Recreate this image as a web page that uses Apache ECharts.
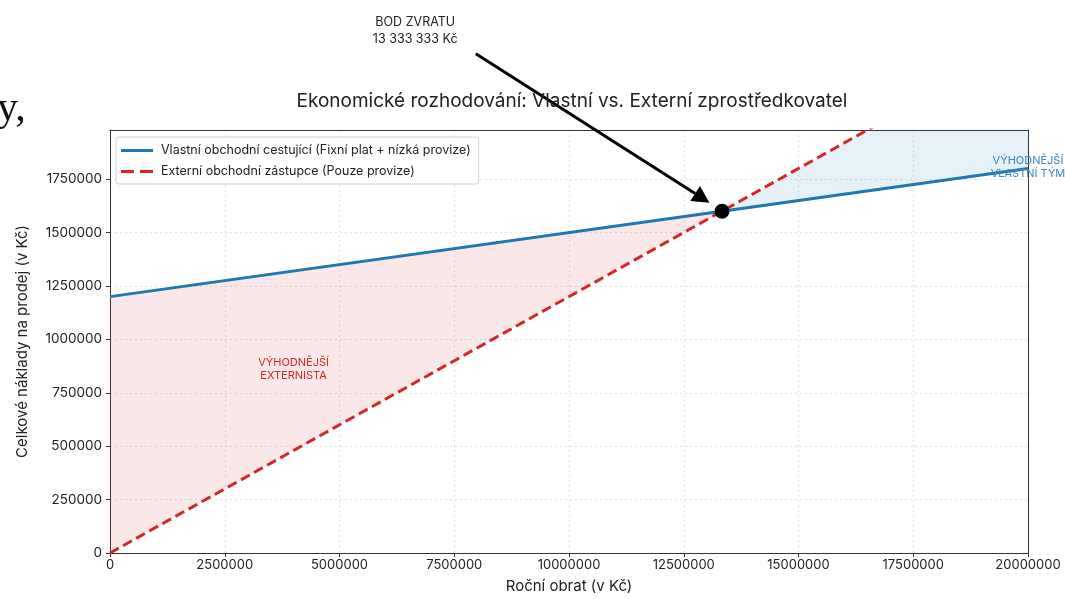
<!DOCTYPE html>
<html>
<head>
<meta charset="utf-8">
<script src="https://cdn.jsdelivr.net/npm/echarts@6/dist/echarts.min.js"></script>
<style>
html,body{margin:0;padding:0;background:#fff;}
#chart{width:1065px;height:599px;}
</style>
</head>
<body>
<div id="chart"></div>
<script>
// ---- data ----
const revenue = [0, 13333333, 20000000];                 // roční obrat (Kč)
const internalCost = [1200000, 1600000, 1800000];        // vlastní obchodní cestující
const externalCost = [0, 1600000, 2400000];              // externí zástupce
const breakEven = [13333333, 1600000];
const xTicks = [0, 2500000, 5000000, 7500000, 10000000, 12500000, 15000000, 17500000, 20000000];
const yTicks = [0, 250000, 500000, 750000, 1000000, 1250000, 1500000, 1750000];
const seriesNames = ['Vlastní obchodní cestující (Fixní plat + nízká provize)', 'Externí obchodní zástupce (Pouze provize)'];

const FONT = 'Inter';
const BLUE = '#1f77b4', RED = '#d62728';

const internalData = revenue.map((x, i) => [x, internalCost[i]]);
const externalData = revenue.map((x, i) => [x, externalCost[i]]);

// annotation placement (data coords)
const annotText = [6650000, 2445000];
const arrowFrom = [7970000, 2337000];
const arrowTo = [13060000, 1640000];
const labelExt = [4000000, 860000];
const labelInt = [20000000, 1805000];

const chart = echarts.init(document.getElementById('chart'));
const frameAxis = {
  type: 'value', min: 0, show: true,
  axisLine: {show: true, onZero: false, lineStyle: {color: '#333', width: 1}},
  axisTick: {show: false}, axisLabel: {show: false}, splitLine: {show: false}
};
chart.setOption({
  animation: false,
  backgroundColor: '#fff',
  textStyle: {fontFamily: FONT},
  title: {
    text: 'Ekonomické rozhodování: Vlastní vs. Externí zprostředkovatel',
    left: 567, textAlign: 'center', top: 87,
    textStyle: {fontFamily: FONT, fontSize: 19, fontWeight: 'normal', color: '#222'}
  },
  grid: {left: 110, right: 37, top: 130, bottom: 42},
  legend: {
    left: 116, top: 137, orient: 'vertical',
    padding: [7, 8, 6, 5], itemGap: 8,
    backgroundColor: '#fff', borderColor: '#d0d0d0', borderWidth: 1, borderRadius: 3,
    itemWidth: 32, itemHeight: 3,
    textStyle: {fontFamily: FONT, fontSize: 12.5, color: '#222', padding: [0, 0, 0, 3]},
    data: [
      {name: seriesNames[0], icon: 'path://M0,0h32v3h-32z'},
      {name: seriesNames[1], icon: 'path://M0,0h13v3h-13z M19,0h13v3h-13z'}
    ]
  },
  xAxis: [{
    type: 'value', min: 0, max: 20000000, interval: 2500000,
    name: 'Roční obrat (v Kč)', nameLocation: 'middle', nameGap: 26,
    nameTextStyle: {fontFamily: FONT, fontSize: 15, color: '#222'},
    axisLine: {show: true, onZero: false, lineStyle: {color: '#333'}},
    axisTick: {show: true, length: 4, lineStyle: {color: '#333'}},
    axisLabel: {fontFamily: FONT, fontSize: 13, color: '#222', margin: 6,
      formatter: v => xTicks.includes(v) ? String(v) : ''},
    splitLine: {show: true, lineStyle: {color: '#e2e2e2', type: [2, 3]}}
  }, Object.assign({}, frameAxis, {position: 'top', max: 20000000})],
  yAxis: [{
    type: 'value', min: 0, max: 1980000, interval: 250000,
    name: 'Celkové náklady na prodej (v Kč)', nameLocation: 'middle', nameGap: 80,
    nameTextStyle: {fontFamily: FONT, fontSize: 15, color: '#222'},
    axisLine: {show: true, onZero: false, lineStyle: {color: '#333'}},
    axisTick: {show: true, length: 4, lineStyle: {color: '#333'}},
    axisLabel: {fontFamily: FONT, fontSize: 13.5, color: '#222', margin: 8, showMaxLabel: false,
      formatter: v => yTicks.includes(v) ? String(v) : ''},
    splitLine: {show: true, lineStyle: {color: '#e2e2e2', type: [2, 3]}}
  }, Object.assign({}, frameAxis, {position: 'right', max: 1980000})],
  series: [
    {
      type: 'custom', silent: true, clip: true, z: 1,
      data: [[0, 0]],
      renderItem: (params, api) => {
        const redPts = [internalData[0], internalData[1], externalData[0]].map(p => api.coord(p));
        const bluePts = [internalData[1], internalData[2], externalData[2]].map(p => api.coord(p));
        return {type: 'group', children: [
          {type: 'polygon', shape: {points: redPts}, style: {fill: 'rgba(214,39,40,0.11)'}},
          {type: 'polygon', shape: {points: bluePts}, style: {fill: 'rgba(31,119,180,0.11)'}}
        ]};
      }
    },
    {
      name: seriesNames[0], type: 'line', data: internalData, symbol: 'none', z: 3,
      lineStyle: {color: BLUE, width: 3}, itemStyle: {color: BLUE}
    },
    {
      name: seriesNames[1], type: 'line', data: externalData, symbol: 'none', z: 3, clip: true,
      lineStyle: {color: RED, width: 3, type: [10, 5]}, itemStyle: {color: RED}
    },
    {
      type: 'scatter', data: [breakEven], symbolSize: 15, z: 5, silent: true,
      itemStyle: {color: '#000', opacity: 1}
    },
    {
      type: 'custom', silent: true, clip: false, z: 6,
      data: [[0, 0]],
      renderItem: (params, api) => {
        const a = api.coord(arrowFrom), b = api.coord(arrowTo), t = api.coord(annotText);
        const dx = b[0] - a[0], dy = b[1] - a[1], L = Math.hypot(dx, dy);
        const ux = dx / L, uy = dy / L, hl = 17, hw = 9;
        const base = [b[0] - ux * hl, b[1] - uy * hl];
        const head = [b, [base[0] - uy * hw, base[1] + ux * hw], [base[0] + uy * hw, base[1] - ux * hw]];
        const rA = api.coord(labelExt);
        const rB = api.coord(labelInt);
        return {type: 'group', children: [
          {type: 'line', shape: {x1: a[0], y1: a[1], x2: base[0], y2: base[1]}, style: {stroke: '#000', lineWidth: 3}},
          {type: 'polygon', shape: {points: head}, style: {fill: '#000'}},
          {type: 'text', x: t[0], y: t[1], style: {text: 'BOD ZVRATU\n13 333 333 Kč', fontFamily: FONT, fontSize: 12.5, fill: '#222', align: 'center', verticalAlign: 'middle', lineHeight: 17}},
          {type: 'text', x: rA[0], y: rA[1], style: {text: 'VÝHODNĚJŠÍ\nEXTERNISTA', fontFamily: FONT, fontSize: 11, fill: RED, align: 'center', verticalAlign: 'middle', lineHeight: 13}},
          {type: 'text', x: rB[0], y: rB[1], style: {text: 'VÝHODNĚJŠÍ\nVLASTNÍ TÝM', fontFamily: FONT, fontSize: 11, fill: '#3a86c4', align: 'center', verticalAlign: 'middle', lineHeight: 13}}
        ]};
      }
    }
  ],
  graphic: [
    {type: 'text', left: -24, top: 88, style: {text: 'ky,', fontFamily: 'Liberation Serif', fontSize: 42, fill: '#111'}}
  ]
});
</script>
</body>
</html>
